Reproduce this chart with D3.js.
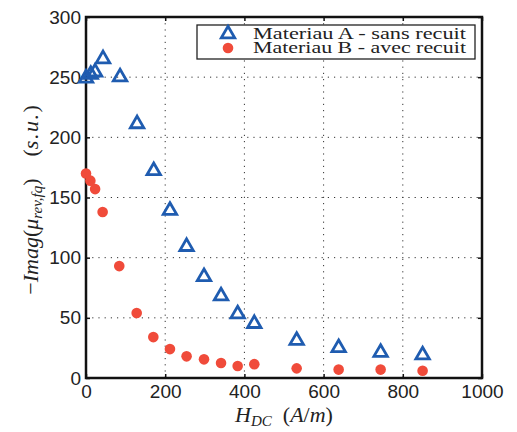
<!DOCTYPE html>
<html><head><meta charset="utf-8">
<script src="https://cdn.jsdelivr.net/npm/d3@7"></script>
<style>body{margin:0;background:#fff}</style>
</head><body><svg id="c" width="517" height="432"></svg>
<script>
const hA = [0, 12, 23, 43, 86, 129, 171, 212, 254, 298, 341, 383, 425, 532, 638, 744, 850];
const vA = [250, 253, 255, 266, 251, 212, 173, 140, 110, 85, 69, 54, 46, 32, 26, 22, 20];
const hB = [0, 11, 23, 42, 84, 128, 170, 212, 254, 298, 341, 383, 425, 532, 638, 744, 850];
const vB = [170, 164, 157, 138, 93, 54, 34, 24, 18, 15.5, 12.5, 10, 11.5, 8, 7, 7, 6];
const xTicks = [0, 200, 400, 600, 800, 1000];
const yTicks = [0, 50, 100, 150, 200, 250, 300];
const legendLabels = ["Materiau A - sans recuit", "Materiau B - avec recuit"];

const svg = d3.select("#c");
const L = 86, R = 482, T = 17, B = 378;
const x = d3.scaleLinear().domain([0, 1000]).range([L, R]);
const y = d3.scaleLinear().domain([0, 300]).range([B, T]);

// grid
const g = svg.append("g");
g.selectAll(".gx").data(xTicks.slice(1, -1)).join("line")
  .attr("x1", d => x(d)).attr("x2", d => x(d)).attr("y1", T).attr("y2", B)
  .attr("stroke", "#333").attr("stroke-width", 1).attr("stroke-dasharray", "1.2,5");
g.selectAll(".gy").data(yTicks.slice(1, -1)).join("line")
  .attr("y1", d => y(d)).attr("y2", d => y(d)).attr("x1", L).attr("x2", R)
  .attr("stroke", "#333").attr("stroke-width", 1).attr("stroke-dasharray", "1.2,5");

// axes (ticks inward on all sides)
const ax = d3.axisBottom(x).tickValues(xTicks).tickFormat(d3.format("d")).tickSizeInner(-4).tickSizeOuter(0).tickPadding(7);
const ay = d3.axisLeft(y).tickValues(yTicks).tickFormat(d3.format("d")).tickSizeInner(-4).tickSizeOuter(0).tickPadding(5);
const fmt = s => s.call(sel => {
  sel.select(".domain").remove();
  sel.selectAll("line").attr("stroke", "#111").attr("stroke-width", 1.5);
  sel.selectAll("text").attr("font-family", "Liberation Sans, Arial, sans-serif").attr("font-size", 19).attr("fill", "#222");
});
svg.append("g").attr("transform", `translate(0,${B})`).call(ax).call(fmt);
svg.append("g").attr("transform", `translate(${L},0)`).call(ay).call(fmt);
svg.append("g").attr("transform", `translate(0,${T})`).call(d3.axisTop(x).tickValues(xTicks).tickSizeInner(-4).tickSizeOuter(0).tickFormat("")).call(fmt);
svg.append("g").attr("transform", `translate(${R},0)`).call(d3.axisRight(y).tickValues(yTicks).tickSizeInner(-4).tickSizeOuter(0).tickFormat("")).call(fmt);

svg.append("rect").attr("x", L).attr("y", T).attr("width", R - L).attr("height", B - T)
  .attr("fill", "none").attr("stroke", "#111").attr("stroke-width", 2.5);

const blue = "#1f5cb0", red = "#f04b3a";
const tri = d3.symbol().type(d3.symbolTriangle).size(78);

svg.append("g").selectAll("path").data(hA.map((h, i) => [h, vA[i]])).join("path")
  .attr("d", tri).attr("transform", d => `translate(${x(d[0])},${y(d[1]) + 1})`)
  .attr("fill", "none").attr("stroke", blue).attr("stroke-width", 2.8).attr("stroke-linejoin", "miter");
svg.append("g").selectAll("circle").data(hB.map((h, i) => [h, vB[i]])).join("circle")
  .attr("cx", d => x(d[0])).attr("cy", d => y(d[1])).attr("r", 5.3).attr("fill", red);

// legend
const lg = svg.append("g");
lg.append("rect").attr("x", 197).attr("y", 25).attr("width", 278).attr("height", 34)
  .attr("fill", "#fff").attr("stroke", "#222").attr("stroke-width", 1.3);
lg.append("path").attr("d", tri).attr("transform", "translate(228,34)")
  .attr("fill", "none").attr("stroke", blue).attr("stroke-width", 2.8);
lg.append("circle").attr("cx", 228).attr("cy", 48).attr("r", 5.3).attr("fill", red);
lg.selectAll("text").data(legendLabels).join("text")
  .attr("x", 253).attr("y", (d, i) => 38.5 + i * 14.5)
  .attr("font-family", "Liberation Serif, serif").attr("font-size", 16)
  .attr("textLength", 213).attr("lengthAdjust", "spacingAndGlyphs").attr("fill", "#222").text(d => d);

// axis labels
const xl = svg.append("text").attr("x", 284).attr("y", 422).attr("text-anchor", "middle")
  .attr("font-family", "Liberation Serif, serif").attr("font-size", 22).attr("fill", "#222");
xl.append("tspan").attr("font-style", "italic").text("H");
xl.append("tspan").attr("font-style", "italic").attr("font-size", 15).attr("dy", 4).text("DC");
xl.append("tspan").attr("dy", -4).text("\u2002(");
xl.append("tspan").attr("font-style", "italic").text("A");
xl.append("tspan").text("/");
xl.append("tspan").attr("font-style", "italic").text("m");
xl.append("tspan").text(")");

const yl = svg.append("text").attr("transform", `translate(38,200) rotate(-90)`).attr("text-anchor", "middle")
  .attr("font-family", "Liberation Serif, serif").attr("font-size", 22).attr("fill", "#222");
yl.append("tspan").text("\u2212");
yl.append("tspan").attr("font-style", "italic").text("Imag");
yl.append("tspan").text("(");
yl.append("tspan").attr("font-style", "italic").text("\u03BC");
yl.append("tspan").attr("font-style", "italic").attr("font-size", 15).attr("dy", 4).text("rev,fq");
yl.append("tspan").attr("dy", -4).text(")\u2003(");
yl.append("tspan").attr("font-style", "italic").attr("letter-spacing", 1.5).text("s.u.");
yl.append("tspan").text(")");
</script></body></html>
